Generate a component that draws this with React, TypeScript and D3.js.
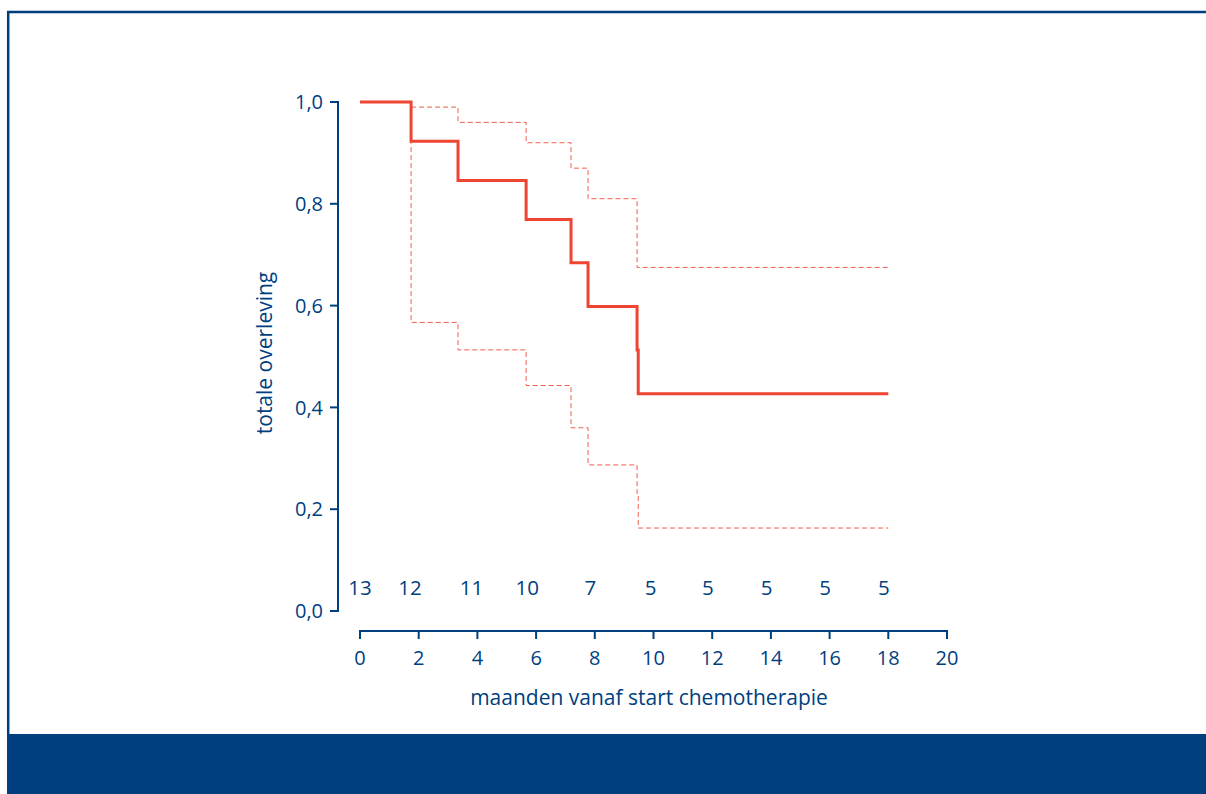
import React from 'react'
import * as d3 from 'd3'

// Kaplan-Meier: totale overleving
const kmTimes = [0, 1.74, 3.34, 5.66, 7.19, 7.77, 9.44, 9.48, 18]
const kmSurv = [1, 0.923, 0.846, 0.769, 0.684, 0.598, 0.513, 0.427, 0.427]

const upperTimes = [1.74, 3.34, 5.66, 7.19, 7.77, 9.44, 18]
const upperSurv = [0.99, 0.96, 0.92, 0.87, 0.81, 0.675, 0.675]

const lowerTimes = [1.74, 1.74, 3.34, 5.66, 7.19, 7.77, 9.44, 9.48, 18]
const lowerSurv = [0.99, 0.567, 0.513, 0.443, 0.36, 0.287, 0.23, 0.163, 0.163]

// aantal patienten at risk
const riskTimes = [0, 1.7, 3.8, 5.7, 7.85, 9.9, 11.85, 13.85, 15.85, 17.85]
const riskCounts = [13, 12, 11, 10, 7, 5, 5, 5, 5, 5]

const xTicks = [0, 2, 4, 6, 8, 10, 12, 14, 16, 18, 20]
const yTicks = [0, 0.2, 0.4, 0.6, 0.8, 1.0]

const NAVY = '#003f7f'
const RED = '#ee4431'
const FONT = '"Open Sans", sans-serif'

const W = 1206
const H = 794

export default function App() {
  const x = d3.scaleLinear().domain([0, 20]).range([360, 947])
  const y = d3.scaleLinear().domain([0, 1]).range([611, 102])

  const line = d3.line<[number, number]>()
    .x(d => x(d[0]))
    .y(d => y(d[1]))
    .curve(d3.curveStepAfter)

  const km = line(kmTimes.map((t, i) => [t, kmSurv[i]]))
  const up = line(upperTimes.map((t, i) => [t, upperSurv[i]]))
  const lo = line(lowerTimes.map((t, i) => [t, lowerSurv[i]]))

  const axisX = 338
  const axisY = 631
  const fmt = (v: number) => v.toFixed(1).replace('.', ',')

  return (
    <svg width={W} height={H} style={{ position: 'absolute', left: 0, top: 0 }} fontFamily={FONT}>
      <rect x={0} y={0} width={W} height={H} fill="#fff" />
      {/* frame */}
      <line x1={7} y1={12} x2={W} y2={12} stroke={NAVY} strokeWidth={2.5} />
      <line x1={8.2} y1={11} x2={8.2} y2={734} stroke={NAVY} strokeWidth={2.5} />
      <rect x={7} y={734} width={W - 7} height={H - 734} fill={NAVY} />

      {/* y axis */}
      <line x1={axisX} y1={y(1)} x2={axisX} y2={y(0)} stroke={NAVY} strokeWidth={2} />
      {yTicks.map(t => (
        <g key={t}>
          <line x1={axisX - 8} x2={axisX + 1} y1={y(t)} y2={y(t)} stroke={NAVY} strokeWidth={2} />
          <text x={323} y={y(t)} dy="0.36em" textAnchor="end" fontSize={20} fill={NAVY}>{fmt(t)}</text>
        </g>
      ))}
      <text transform={`translate(272, 353) rotate(-90)`} textAnchor="middle"
        fontSize={21} fill={NAVY}>totale overleving</text>

      {/* x axis */}
      <line x1={x(0) - 1} x2={x(20) + 1} y1={axisY} y2={axisY} stroke={NAVY} strokeWidth={2} />
      {xTicks.map(t => (
        <g key={t}>
          <line x1={x(t)} x2={x(t)} y1={axisY} y2={axisY + 8} stroke={NAVY} strokeWidth={2} />
          <text x={x(t)} y={665} textAnchor="middle" fontSize={20} fill={NAVY}>{t}</text>
        </g>
      ))}
      <text x={649} y={705} textAnchor="middle" fontSize={21} fill={NAVY}>
        maanden vanaf start chemotherapie
      </text>

      {/* number at risk */}
      {riskTimes.map((t, i) => (
        <text key={i} x={x(t)} y={595} textAnchor="middle" fontSize={20.5} fill={NAVY}>{riskCounts[i]}</text>
      ))}

      {/* curves */}
      <path d={up ?? ''} fill="none" stroke={RED} strokeWidth={1} strokeDasharray="5,3" opacity={0.85} />
      <path d={lo ?? ''} fill="none" stroke={RED} strokeWidth={1} strokeDasharray="5,3" opacity={0.85} />
      <path d={km ?? ''} fill="none" stroke={RED} strokeWidth={3} />
    </svg>
  )
}
